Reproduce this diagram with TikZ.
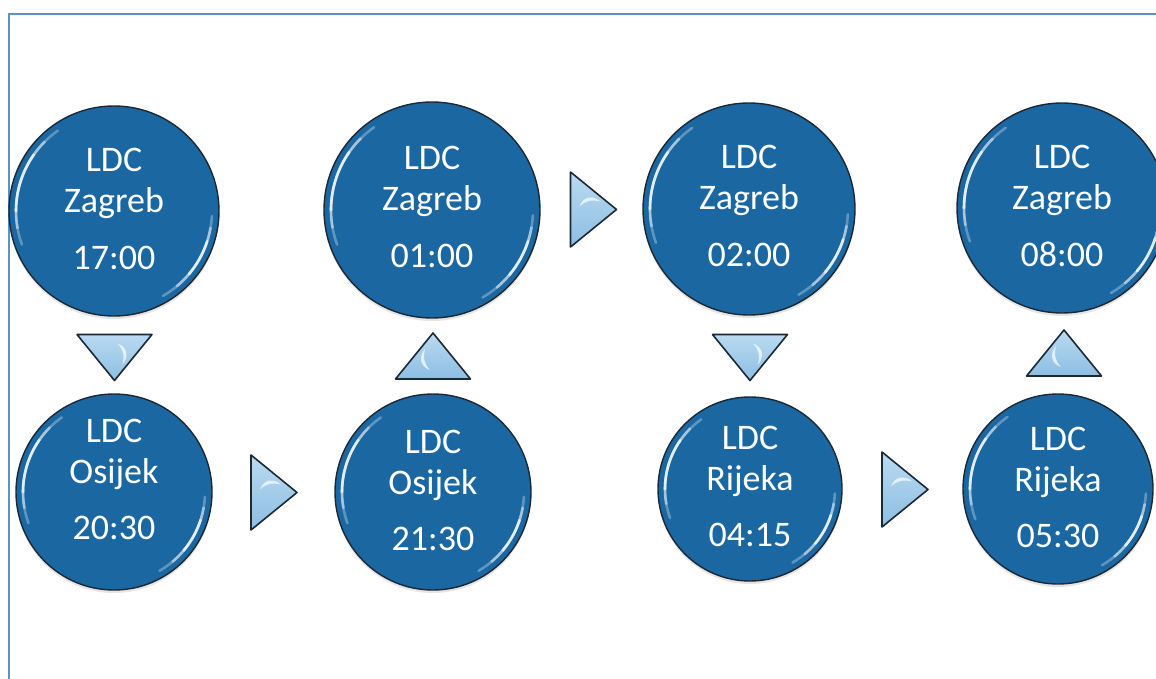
\documentclass[tikz,border=0pt]{standalone}
\usepackage{fontspec}
\setmainfont{Carlito}
\usetikzlibrary{calc,shadows}
\definecolor{ballblue}{RGB}{26,103,162}
\definecolor{balledge}{RGB}{28,40,52}
\definecolor{trilight}{RGB}{186,218,241}
\definecolor{tridark}{RGB}{140,190,226}
\definecolor{frameblue}{RGB}{95,145,195}
\tikzset{
  ball/.style={circle, draw=balledge, line width=1.4pt, fill=ballblue, inner sep=0pt,
    drop shadow={shadow xshift=0pt, shadow yshift=-3pt, opacity=0.2}},
  lbl/.style={text=white, font=\fontsize{36}{40}\selectfont, anchor=base, inner sep=0pt},
  gloss/.style={white, line cap=round, line width=2.6pt},
  tri/.style={draw=balledge, line width=1.6pt, line join=round, top color=trilight, bottom color=tridark},
  arrowtri/.pic={
    \draw[tri] (-23,-37.5) -- (23,0) -- (-23,37.5) -- cycle;
    \fill[white, opacity=0.7] (-14,-3) .. controls (-10,-14) and (0,-14) .. (7,-8)
       .. controls (-2,-10) and (-8,-9) .. (-14,-3) -- cycle;
  }
}
\newcommand{\station}[7]{%
  \node[ball, minimum size=2*#4pt] (#1) at (#2,#3) {};
  \draw[gloss, opacity=0.3] (#1) ++(-125:#4-7) arc[start angle=-125, end angle=-200, radius=#4-7];
  \draw[gloss, opacity=0.45] (#1) ++(-135:#4-7) arc[start angle=-135, end angle=-190, radius=#4-7];
  \draw[gloss, opacity=0.7] (#1) ++(-145:#4-7) arc[start angle=-145, end angle=-180, radius=#4-7];
  \draw[gloss, opacity=0.3] (#1) ++(3:#4-7) arc[start angle=3, end angle=60, radius=#4-7];
  \draw[gloss, opacity=0.45] (#1) ++(10:#4-7) arc[start angle=10, end angle=50, radius=#4-7];
  \draw[gloss, opacity=0.7] (#1) ++(18:#4-7) arc[start angle=18, end angle=40, radius=#4-7];
  \node[lbl] (#1-a) at ($(#1)+(0,#7-40)$) {LDC};
  \node[lbl] (#1-b) at ($(#1)+(0,#7+1)$) {#5};
  \node[lbl] (#1-c) at ($(#1)+(0,#7+57)$) {#6};
}
\begin{document}
\begin{tikzpicture}[x=1pt, y=-1pt]
  \clip (0,0) rectangle (1156,679);
  \fill[white] (0,0) rectangle (1156,679);
  \draw[frameblue, line width=2pt] (8.5,679) -- (8.5,14) -- (1156,14);

  \station{z1}{114}{211}{105}{Zagreb}{17:00}{1}
  \station{z2}{432}{210}{108}{Zagreb}{01:00}{0}
  \station{z3}{749}{209}{106}{Zagreb}{02:00}{0}
  \station{z4}{1062}{208}{105}{Zagreb}{08:00}{1}
  \station{o1}{114}{492}{98}{Osijek}{20:30}{-10}
  \station{o2}{433}{492}{98}{Osijek}{21:30}{1}
  \station{r1}{750}{489}{92}{Rijeka}{04:15}{0}
  \station{r2}{1058}{489}{95}{Rijeka}{05:30}{1}

  \pic[rotate=-90] at (114.5,357.5) {arrowtri};
  \pic at (274,492.5) {arrowtri};
  \pic[rotate=90] at (433,356) {arrowtri};
  \pic at (593.5,209.5) {arrowtri};
  \pic[rotate=-90] at (750,357.5) {arrowtri};
  \pic at (905,489.5) {arrowtri};
  \pic[rotate=90] at (1064,353) {arrowtri};
\end{tikzpicture}
\end{document}
